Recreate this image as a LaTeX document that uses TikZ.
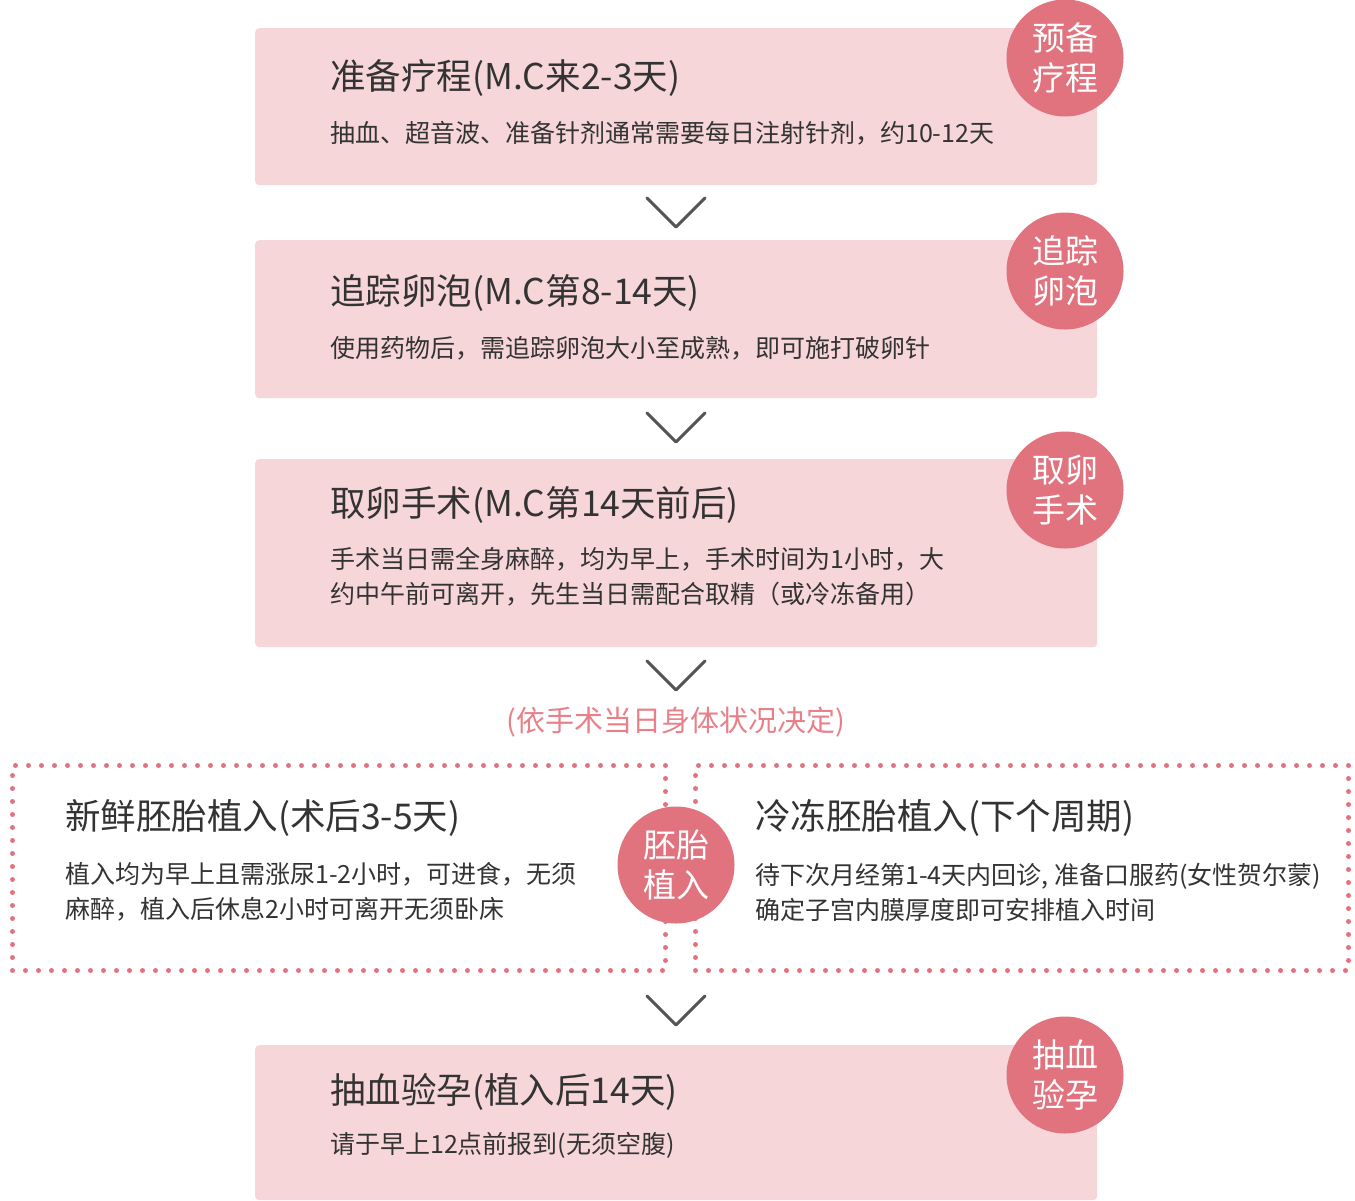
\documentclass[tikz,border=0pt]{standalone}
\usepackage{fontspec}
\setmainfont{Noto Sans CJK SC}
\definecolor{boxpink}{HTML}{F7D6DA}
\definecolor{badgered}{HTML}{E0737E}
\definecolor{darktext}{HTML}{333333}
\definecolor{arrowgray}{HTML}{555555}
\definecolor{notepink}{HTML}{E8808A}

\tikzset{
  stage/.style={fill=boxpink, rounded corners=4pt, minimum width=842pt, inner sep=0pt, anchor=north west},
  badge/.style={circle, fill=badgered, text=white, minimum size=117pt, inner sep=0pt, align=center, font=\fontsize{33}{40}\selectfont},
  title/.style={anchor=west, text=darktext, font=\fontsize{35.5}{40}\selectfont, inner sep=0pt},
  detail/.style={anchor=west, text=darktext, font=\fontsize{25}{35}\selectfont, inner sep=0pt, align=left},
  chevron/.style={draw=arrowgray, line width=3pt, line cap=round, line join=round},
  dotbox/.style={draw=badgered, line width=5pt, dash pattern=on 0pt off 13pt, line cap=round, inner sep=0pt, anchor=north west}
}

\begin{document}
\begin{tikzpicture}[x=1pt,y=-1pt]
\useasboundingbox (0,0) rectangle (1355,1200);

% stage boxes
\node[stage, minimum height=157pt] (prep) at (255,28) {};
\node[stage, minimum height=158pt] (track) at (255,240) {};
\node[stage, minimum height=188pt] (retrieve) at (255,459) {};
\node[stage, minimum height=155pt] (test) at (255,1045) {};

% dotted boxes
\node[dotbox, minimum width=653pt, minimum height=205pt] (fresh) at (10,763) {};
\node[dotbox, minimum width=653pt, minimum height=205pt] (frozen) at (693,763) {};

% texts
\node[title] (prept) at (330,78) {准备疗程(M.C来2-3天)};
\node[detail] (prepd) at (330,133) {抽血、超音波、准备针剂通常需要每日注射针剂，约10-12天};

\node[title] (trackt) at (330,293) {追踪卵泡(M.C第8-14天)};
\node[detail] (trackd) at (330,348) {使用药物后，需追踪卵泡大小至成熟，即可施打破卵针};

\node[title] (retrievet) at (330,505) {取卵手术(M.C第14天前后)};
\node[detail] (retrieved) at (330,577) {手术当日需全身麻醉，均为早上，手术时间为1小时，大\\约中午前可离开，先生当日需配合取精（或冷冻备用）};

\node[text=notepink, font=\fontsize{29}{32}\selectfont] (note) at (676,722) {(依手术当日身体状况决定)};

\node[title] (fresht) at (65,818) {新鲜胚胎植入(术后3-5天)};
\node[detail] (freshd) at (65,892) {植入均为早上且需涨尿1-2小时，可进食，无须\\麻醉，植入后休息2小时可离开无须卧床};

\node[title] (frozent) at (755,818) {冷冻胚胎植入(下个周期)};
\node[detail] (frozend) at (755,892) {待下次月经第1-4天内回诊, 准备口服药(女性贺尔蒙)\\确定子宫内膜厚度即可安排植入时间};

\node[title] (testt) at (330,1092) {抽血验孕(植入后14天)};
\node[detail] (testd) at (330,1145) {请于早上12点前报到(无须空腹)};

% badges
\node[badge] (b1) at (1065,58) {预备\\疗程};
\node[badge] (b2) at (1065,271) {追踪\\卵泡};
\node[badge] (b3) at (1065,490) {取卵\\手术};
\node[badge] (b4) at (676,865) {胚胎\\植入};
\node[badge] (b5) at (1065,1075) {抽血\\验孕};

% chevrons
\foreach \y in {198,413,661,996}
  \draw[chevron] (647,\y) -- (676,\y+29) -- (705,\y);
\end{tikzpicture}
\end{document}
